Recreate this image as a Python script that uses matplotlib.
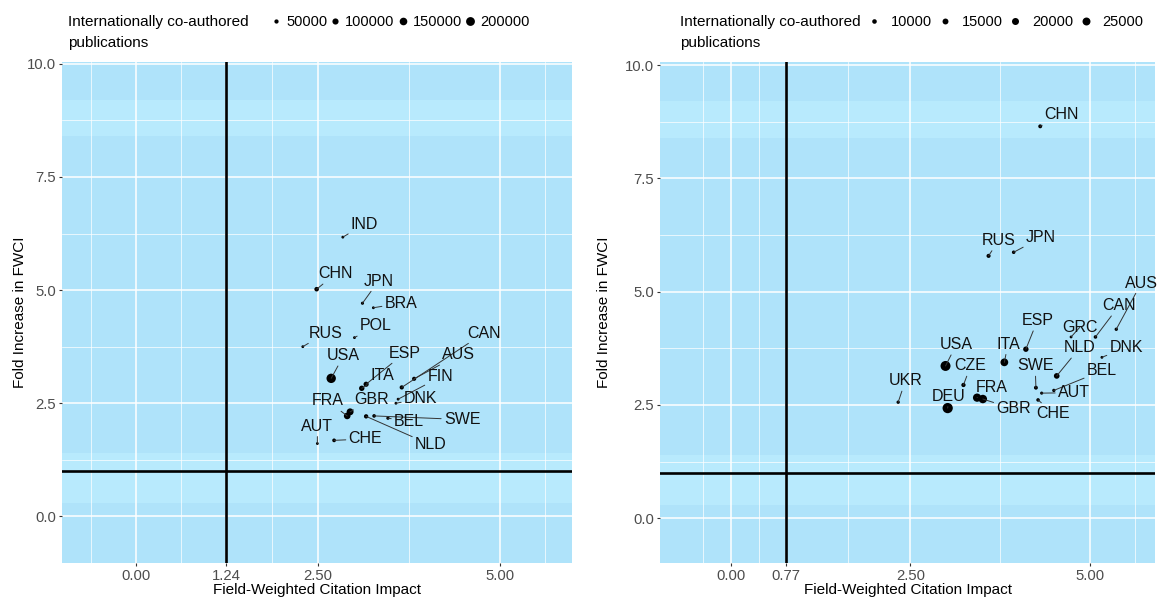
import matplotlib.pyplot as plt
from matplotlib.lines import Line2D

plt.rcParams['font.family'] = ['Liberation Sans', 'DejaVu Sans']

# ---- left panel data ----
left_countries = ['IND', 'CHN', 'JPN', 'BRA', 'POL', 'RUS', 'USA', 'ESP', 'ITA', 'CAN',
                  'AUS', 'FIN', 'DNK', 'FRA', 'GBR', 'AUT', 'CHE', 'NLD', 'SWE', 'BEL']
left_fwci = [2.84, 2.48, 3.11, 3.26, 3.00, 2.29, 2.68, 3.16, 3.10, 3.65,
             3.82, 3.60, 3.57, 2.90, 2.94, 2.49, 2.72, 3.16, 3.27, 3.46]
left_fold = [6.17, 5.02, 4.71, 4.61, 3.95, 3.75, 3.05, 2.92, 2.83, 2.85,
             3.04, 2.59, 2.50, 2.22, 2.31, 1.61, 1.68, 2.21, 2.22, 2.17]
left_pubs = [22000, 57000, 30000, 25000, 20000, 24000, 225000, 72000, 78000, 50000,
             48000, 18000, 24000, 115000, 125000, 22000, 40000, 52000, 38000, 32000]
left_ref = 1.24
left_breaks = [50000, 100000, 150000, 200000]

# ---- right panel data ----
right_countries = ['CHN', 'RUS', 'JPN', 'AUS', 'CAN', 'GRC', 'ESP', 'DNK', 'ITA', 'USA',
                   'NLD', 'CZE', 'SWE', 'BEL', 'AUT', 'UKR', 'FRA', 'GBR', 'DEU', 'CHE']
right_fwci = [4.31, 3.59, 3.94, 5.37, 5.08, 4.74, 4.11, 5.17, 3.81, 2.99,
              4.54, 3.24, 4.25, 4.50, 4.33, 2.33, 3.43, 3.51, 3.02, 4.28]
right_fold = [8.65, 5.79, 5.87, 4.17, 4.00, 4.00, 3.73, 3.55, 3.44, 3.36,
              3.14, 2.94, 2.88, 2.82, 2.76, 2.56, 2.66, 2.63, 2.43, 2.61]
right_pubs = [8000, 8500, 7000, 6500, 7000, 5000, 13000, 5000, 24000, 38000,
              14000, 9000, 8000, 6500, 6000, 6500, 27000, 28000, 40000, 7000]
right_ref = 0.77
right_breaks = [10000, 15000, 20000, 25000]

# ---- repelled label positions (layout) ----
left_lab_x = [3.14, 2.74, 3.33, 3.64, 3.29, 2.60, 2.85, 3.69, 3.38, 4.78,
              4.43, 4.18, 3.91, 2.63, 3.23, 2.49, 3.15, 4.05, 4.48, 3.75]
left_lab_y = [6.46, 5.36, 5.20, 4.71, 4.21, 4.05, 3.55, 3.61, 3.11, 4.05,
              3.57, 3.08, 2.60, 2.55, 2.58, 1.99, 1.71, 1.58, 2.14, 2.10]
right_lab_x = [4.60, 3.73, 4.32, 5.72, 5.41, 4.86, 4.27, 5.51, 3.86, 3.14,
               4.86, 3.34, 4.24, 5.17, 4.78, 2.43, 3.63, 3.94, 3.04, 4.49]
right_lab_y = [8.90, 6.13, 6.19, 5.19, 4.69, 4.21, 4.36, 3.77, 3.84, 3.83,
               3.76, 3.36, 3.36, 3.25, 2.77, 3.03, 2.89, 2.41, 2.69, 2.32]

PANEL = '#afe3fa'
BAND = '#b8eafd'
TICKCOL = '#4d4d4d'


def size_left(v):
    return max(4.0e-4 * v - 2, 8) * 0.5184


def size_right(v):
    return max(2.8e-3 * v - 7, 8) * 0.5184


def draw_panel(ax, names, fx, fy, pubs, lx, ly, ref, size_fn, xlim, ylim):
    ax.set_facecolor(PANEL)
    for s in ax.spines.values():
        s.set_visible(False)
    ax.axhspan(0.3, 1.4, color=BAND, lw=0, zorder=0.2)
    ax.axhspan(8.4, 9.2, color=BAND, lw=0, zorder=0.2)
    ax.set_axisbelow(True)
    ax.set_xticks([0, ref, 2.5, 5.0])
    ax.set_xticklabels(['0.00', '%.2f' % ref, '2.50', '5.00'])
    ax.set_xticks([-ref / 2, ref / 2, (ref + 2.5) / 2, 3.75, 5.625], minor=True)
    ax.set_yticks([0, 2.5, 5.0, 7.5, 10.0])
    ax.set_yticklabels(['0.0', '2.5', '5.0', '7.5', '10.0'])
    ax.set_yticks([1.25, 3.75, 6.25, 8.75], minor=True)
    ax.grid(which='major', color='white', lw=1.1)
    ax.grid(which='minor', color='white', lw=0.5)
    ax.tick_params(which='major', length=2.5, width=0.8, color='#333333',
                   labelcolor=TICKCOL, labelsize=10.7, pad=2)
    ax.tick_params(which='minor', length=0)
    ax.axvline(ref, color='black', lw=1.9, zorder=2)
    ax.axhline(1.0, color='black', lw=1.9, zorder=2)
    ax.scatter(fx, fy, s=[size_fn(v) for v in pubs], color='black', lw=0, zorder=4)
    for n, px, py, tx, ty in zip(names, fx, fy, lx, ly):
        ax.annotate(n, xy=(px, py), xytext=(tx, ty), ha='center', va='center',
                    fontsize=11.5, color='#111111', zorder=5,
                    arrowprops=dict(arrowstyle='-', color='#333333', lw=0.7,
                                    shrinkA=0, shrinkB=0))
    ax.set_xlim(*xlim)
    ax.set_ylim(*ylim)
    ax.set_xlabel('Field-Weighted Citation Impact', fontsize=11, labelpad=0)
    ax.set_ylabel('Fold Increase in FWCI', fontsize=11)


fig = plt.figure(figsize=(11.57, 5.99), dpi=100)
W, H = 1157, 599
ax1 = fig.add_axes([62 / W, (H - 563) / H, 510 / W, 501 / H])
ax2 = fig.add_axes([660 / W, (H - 563) / H, 495 / W, 501 / H])

draw_panel(ax1, left_countries, left_fwci, left_fold, left_pubs, left_lab_x, left_lab_y,
           left_ref, size_left, (-1.02, 5.99), (-1.03, 10.04))
draw_panel(ax2, right_countries, right_fwci, right_fold, right_pubs, right_lab_x, right_lab_y,
           right_ref, size_right, (-0.99, 5.91), (-0.99, 10.07))
ax1.yaxis.set_label_coords(-0.068, 0.5)
ax2.yaxis.set_label_coords(-0.098, 0.5)


def add_legend(ax, breaks, size_fn, x_title, x_first, textpad, colsp):
    fig.text(x_title / W, 1 - 22 / H, 'Internationally co-authored', fontsize=11,
             ha='left', va='center')
    fig.text(x_title / W, 1 - 43 / H, 'publications', fontsize=11, ha='left', va='center')
    handles = [Line2D([], [], ls='none', marker='o', color='black', mec='none',
                      markersize=size_fn(b) ** 0.5) for b in breaks]
    ax.legend(handles, [str(b) for b in breaks], ncol=len(breaks), frameon=False,
              loc='center left', bbox_to_anchor=(x_first / W, 1 - 22 / H),
              bbox_transform=fig.transFigure, borderpad=0, borderaxespad=0,
              handlelength=0.6, handletextpad=textpad, columnspacing=colsp,
              fontsize=10.5)


add_legend(ax1, left_breaks, size_left, 68, 272, 0.38, 0.25)
add_legend(ax2, right_breaks, size_right, 680, 870, 0.84, 0.58)

fig.savefig('out.png', dpi=100)
